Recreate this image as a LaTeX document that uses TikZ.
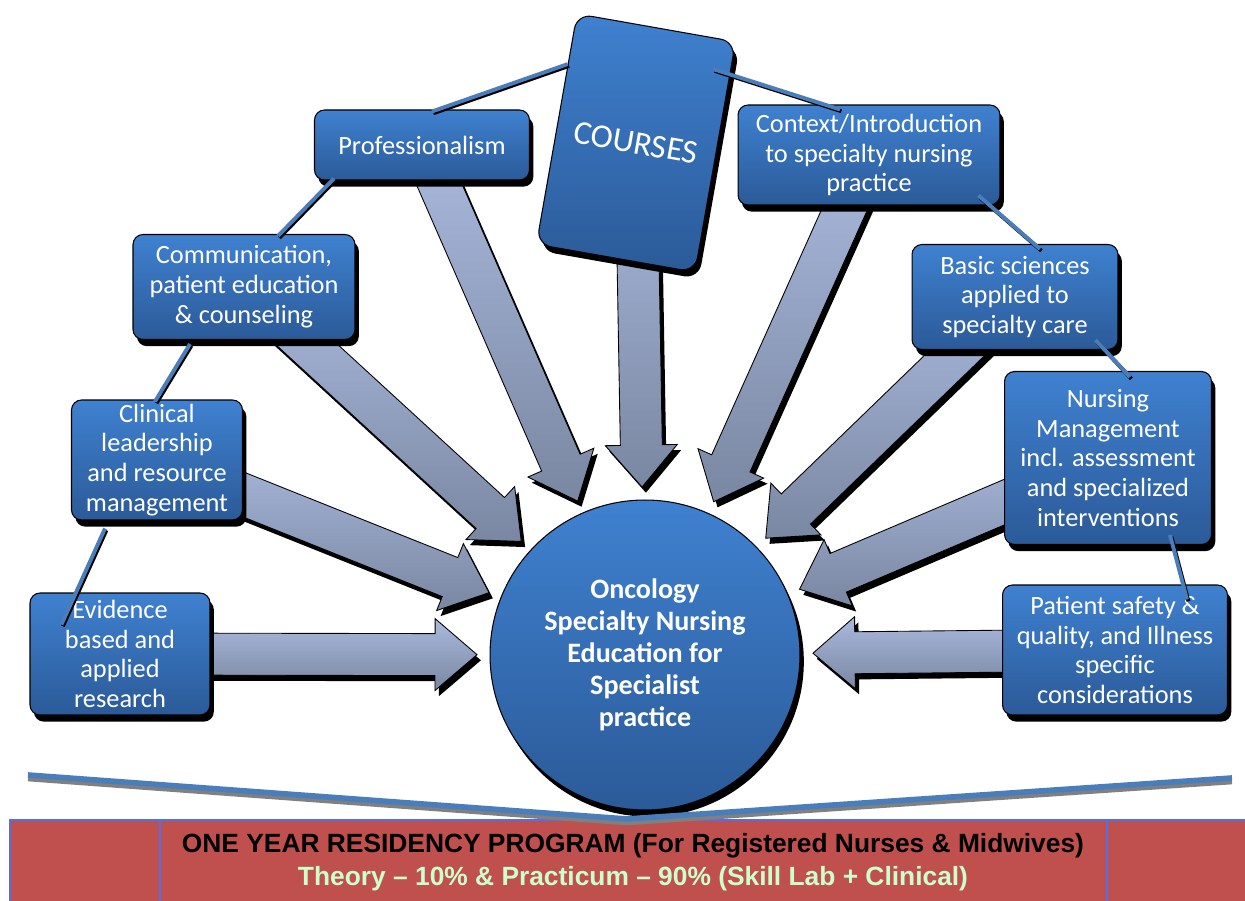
\documentclass[tikz,border=0pt]{standalone}
\usepackage{fontspec}
\setmainfont{Carlito}
\newfontfamily\bannerfont[Ligatures=TeX]{Liberation Sans}
\usepackage{tikz}
\usetikzlibrary{shapes, arrows.meta, positioning, calc, shadows, backgrounds}

\definecolor{boxtop}{HTML}{3F81D0}
\definecolor{boxbot}{HTML}{2B5A98}
\definecolor{arrtop}{HTML}{AABADE}
\definecolor{arrbot}{HTML}{7A87A2}
\definecolor{linkblue}{HTML}{4A7EBB}
\definecolor{bannerred}{HTML}{C0504D}
\definecolor{bannerblue}{HTML}{4F6FEF}
\definecolor{theorygreen}{HTML}{CCFFCC}

% block arrow from a box towards the hub
\newcommand{\blockarrow}[1]{%
  \coordinate (tip) at ($(hub.center)!3.36cm!(#1.center)$);
  \coordinate (neck) at ($(tip)!0.84cm!(#1.center)$);
  \coordinate (a1) at ($(#1.center)!0.42cm!90:(tip)$);
  \coordinate (a2) at ($(neck)!0.42cm!90:(tip)$);
  \coordinate (a3) at ($(neck)!0.72cm!90:(tip)$);
  \coordinate (a4) at ($(neck)!0.72cm!-90:(tip)$);
  \coordinate (a5) at ($(neck)!0.42cm!-90:(tip)$);
  \coordinate (a6) at ($(#1.center)!0.42cm!-90:(tip)$);
  \fill[arrowshadow] (a1) -- (a2) -- (a3) -- (tip) -- (a4) -- (a5) -- (a6) -- cycle;
  \path[arrowbody] (a1) -- (a2) -- (a3) -- (tip) -- (a4) -- (a5) -- (a6) -- cycle;
}

\begin{document}
\begin{tikzpicture}[
		x=0.02cm, y=-0.02cm,
		box/.style = {rectangle, rounded corners=0.2cm, draw=black, line width=0.6pt, top color=boxtop, bottom color=boxbot, text=white, align=center, inner sep=2pt, font=\fontsize{15}{17}\selectfont, drop shadow={shadow xshift=2.2pt, shadow yshift=-3.8pt, fill=black, opacity=1}},
		hubnode/.style = {circle, draw=black, line width=0.6pt, top color=boxtop, bottom color=boxbot, text=white, align=center, inner sep=0pt, minimum size=6.2cm, font=\bfseries\fontsize{16}{18.3}\selectfont, drop shadow={shadow xshift=2.2pt, shadow yshift=-3.8pt, fill=black, opacity=1}},
		arrowbody/.style = {top color=arrtop, bottom color=arrbot, draw=black, line width=0.5pt},
		arrowshadow/.style = {black, transform canvas={xshift=2.2pt, yshift=-3.2pt}},
		link/.style = {draw=linkblue, line width=2.2pt, preaction={draw=black, line width=2.2pt, transform canvas={xshift=0.8pt, yshift=-1pt}}},
		vline/.style = {draw=linkblue, line width=3.2pt, preaction={draw=gray, line width=3.2pt, transform canvas={yshift=-2pt}}},
		bannerbox/.style = {fill=bannerred, draw=bannerblue, line width=0.7pt},
		bannertext/.style = {align=center, font=\bannerfont\bfseries\fontsize{15}{18.7}\selectfont}
		]
		
		\useasboundingbox (0,0) rectangle (1245,901);
		
		\node [hubnode] (hub) at (645,655) {Oncology\\Specialty Nursing\\Education for\\Specialist\\practice};
		
		\node [box, rotate=-10, rounded corners=0.3cm, minimum width=3.22cm, minimum height=4.68cm, font=\fontsize{19}{22}\selectfont] (courses) at (636,143) {COURSES};
		
		\node [box, minimum width=4.3cm, minimum height=1.4cm] (prof) at (422,145) {Professionalism};
		\node [box, minimum width=4.44cm, minimum height=2.1cm] (comm) at (244,287) {Communication,\\patient education\\\& counseling};
		\node [box, minimum width=3.42cm, minimum height=2.4cm] (clin) at (157,460) {Clinical\\leadership\\and resource\\management};
		\node [box, minimum width=3.6cm, minimum height=2.44cm] (ev) at (120,654) {Evidence\\based and\\applied\\research};
		
		\node [box, minimum width=5.24cm, minimum height=2cm] (ctx) at (869,155) {Context/Introduction\\to specialty nursing\\practice};
		\node [box, minimum width=4.12cm, minimum height=2.1cm] (basic) at (1015,297) {Basic sciences\\applied to\\specialty care};
		\node [box, minimum width=4.14cm, minimum height=3.46cm] (nurs) at (1108,458) {Nursing\\Management\\incl. assessment\\and specialized\\interventions};
		\node [box, minimum width=4.5cm, minimum height=2.6cm] (pat) at (1115,650) {Patient safety \&\\quality, and Illness\\specific\\considerations};
		
		% arrows into the hub, behind the boxes
		\begin{scope}[on background layer]
			\foreach \b in {ev, clin, comm, prof, courses, ctx, basic, nurs, pat}
				\blockarrow{\b};
		\end{scope}
		
		% thin links between the course boxes
		\draw [link] ($(courses.north west)!0.22!(courses.south west)$) -- ($(prof.north)+(10,2)$);
		\draw [link] ($(prof.south west)+(20,-2)$) -- ($(comm.north)+(34,2)$);
		\draw [link] ($(comm.south)+(-54,4)$) -- ($(clin.north)+(-2,2)$);
		\draw [link] ($(clin.south)+(-52,8)$) -- ($(ev.north west)+(32,32)$);
		\draw [link] ($(courses.north east)!0.12!(courses.south east)+(-18,0)$) -- ($(ctx.north)+(-29,5)$);
		\draw [link] ($(ctx.south east)+(-22,-10)$) -- ($(basic.north)+(25,5)$);
		\draw [link] ($(basic.south east)+(-23,-10)$) -- ($(nurs.north)+(22,6)$);
		\draw [link] ($(nurs.south)+(62,-10)$) -- ($(pat.north)+(72,15)$);
		
		% residency banner
		\path [bannerbox] (10,820) rectangle (1260,910);
		\draw [bannerblue, line width=0.7pt] (160,820) -- (160,901) (1107,820) -- (1107,901);
		\node [bannertext] (program) at (633,862) {ONE YEAR RESIDENCY PROGRAM (For Registered Nurses \& Midwives)\\\textcolor{theorygreen}{Theory \textendash{} 10\% \& Practicum \textendash{} 90\% (Skill Lab + Clinical)}};
		
		\draw [vline] (28,775) -- (627,819) -- (1232,778);
		
	\end{tikzpicture}
\end{document}
